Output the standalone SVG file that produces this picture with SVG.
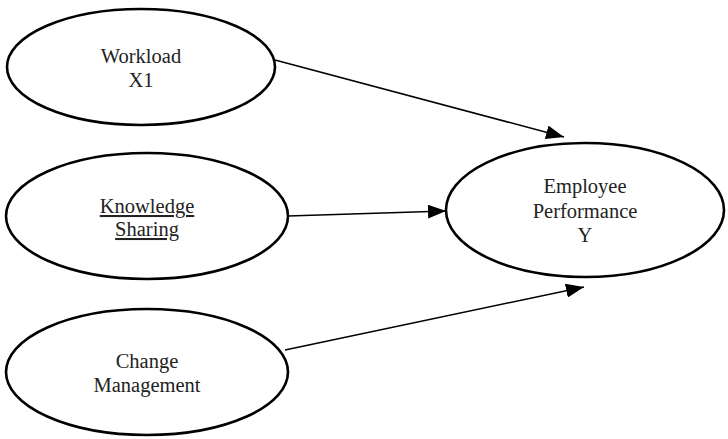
<svg xmlns="http://www.w3.org/2000/svg" width="728" height="439" viewBox="0 0 728 439">
<style>
.node ellipse{fill:#fff;stroke:#000;stroke-width:2.6}
.node text{font-family:"Liberation Serif","Times New Roman",serif;font-size:20.5px;fill:#222;text-anchor:middle}
.edge{stroke:#000;stroke-width:1.5;fill:none;marker-end:url(#arr)}
</style>
<defs>
<marker id="arr" markerWidth="18" markerHeight="14" refX="18" refY="7" orient="auto" markerUnits="userSpaceOnUse">
<path d="M0,0 L18,7 L0,14 Z" fill="#000"/>
</marker>
</defs>
<rect width="728" height="439" fill="#fff"/>
<g id="connectors">
<line class="edge" x1="275" y1="60" x2="564" y2="137"/>
<line class="edge" x1="288" y1="216" x2="446" y2="211"/>
<line class="edge" x1="285" y1="350" x2="584" y2="287"/>
</g>
<g id="workload" class="node">
<ellipse cx="141" cy="67" rx="134" ry="58"/>
<text x="141" y="63">Workload</text>
<text x="141" y="87">X1</text>
</g>
<g id="knowledge" class="node">
<ellipse cx="147" cy="216" rx="141" ry="63"/>
<text x="147" y="213" text-decoration="underline">Knowledge</text>
<text x="147" y="236" text-decoration="underline">Sharing</text>
</g>
<g id="change" class="node">
<ellipse cx="147" cy="372" rx="141" ry="63"/>
<text x="147" y="368">Change</text>
<text x="147" y="392">Management</text>
</g>
<g id="performance" class="node">
<ellipse cx="585" cy="210" rx="139" ry="67"/>
<text x="585" y="193">Employee</text>
<text x="585" y="218">Performance</text>
<text x="585" y="242">Y</text>
</g>
</svg>
